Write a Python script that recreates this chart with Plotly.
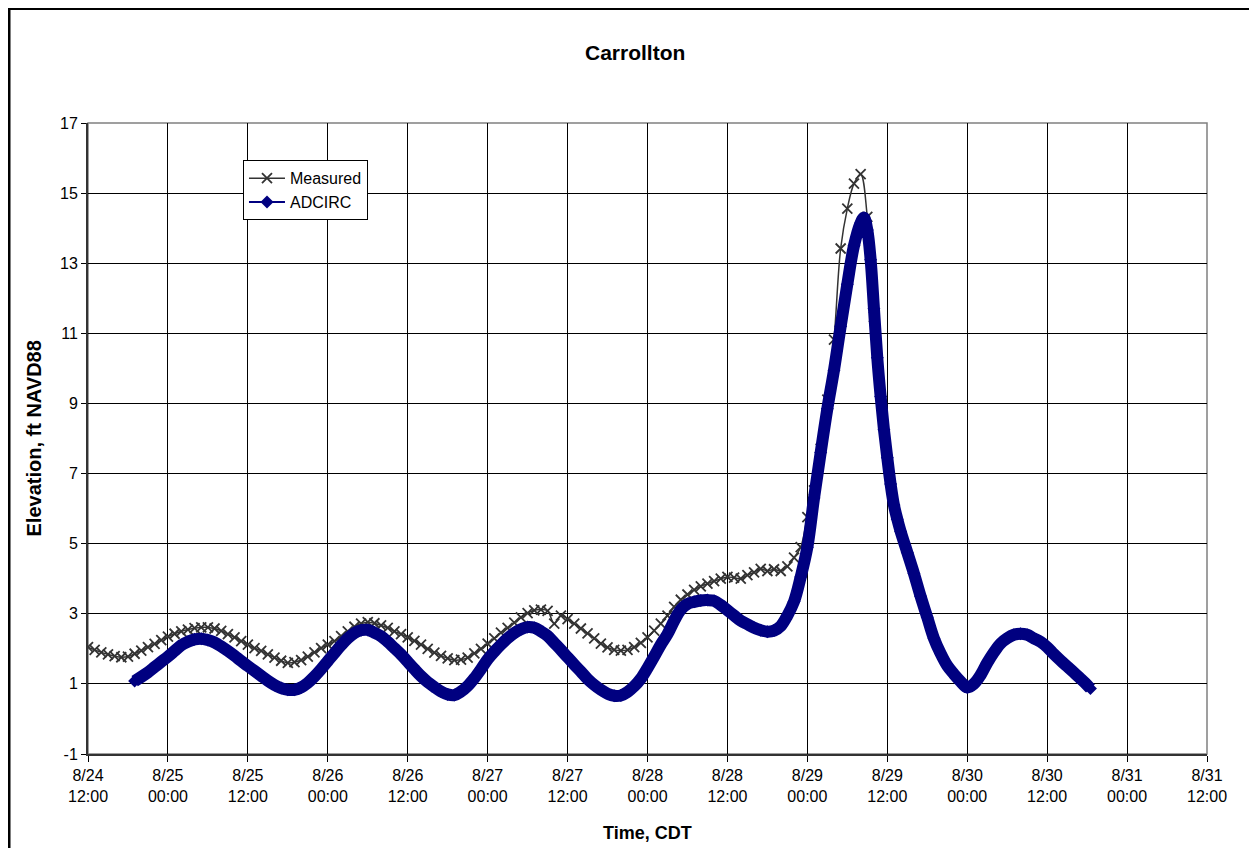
import pandas as pd
import plotly.graph_objects as go

# ---------------- data ----------------
title_text = "Carrollton"
y_title = "Elevation, ft NAVD88"
x_title = "Time, CDT"
start_time = pd.Timestamp("2005-08-24 12:00")

tick_times = ["2005-08-24 12:00", "2005-08-25 00:00", "2005-08-25 12:00", "2005-08-26 00:00",
              "2005-08-26 12:00", "2005-08-27 00:00", "2005-08-27 12:00", "2005-08-28 00:00",
              "2005-08-28 12:00", "2005-08-29 00:00", "2005-08-29 12:00", "2005-08-30 00:00",
              "2005-08-30 12:00", "2005-08-31 00:00", "2005-08-31 12:00"]
tick_labels = ["8/24<br>12:00", "8/25<br>00:00", "8/25<br>12:00", "8/26<br>00:00",
               "8/26<br>12:00", "8/27<br>00:00", "8/27<br>12:00", "8/28<br>00:00",
               "8/28<br>12:00", "8/29<br>00:00", "8/29<br>12:00", "8/30<br>00:00",
               "8/30<br>12:00", "8/31<br>00:00", "8/31<br>12:00"]
y_ticks = [-1, 1, 3, 5, 7, 9, 11, 13, 15, 17]
y_tick_labels = ["-1", "1", "3", "5", "7", "9", "11", "13", "15", "17"]

# Measured: hourly, hours after 8/24 12:00
measured_hours = list(range(0, 119))
measured_ft = [2.05, 1.97, 1.90, 1.84, 1.79, 1.76, 1.78, 1.86, 1.95, 2.05,
               2.14, 2.25, 2.35, 2.43, 2.50, 2.55, 2.59, 2.61, 2.61, 2.58,
               2.51, 2.42, 2.33, 2.22, 2.12, 2.02, 1.94, 1.84, 1.75, 1.66,
               1.60, 1.62, 1.68, 1.78, 1.90, 2.02, 2.12, 2.22, 2.36, 2.50,
               2.63, 2.72, 2.76, 2.73, 2.67, 2.60, 2.50, 2.42, 2.33, 2.23,
               2.12, 2.00, 1.89, 1.80, 1.73, 1.68, 1.69, 1.75, 1.87, 2.00,
               2.15, 2.30, 2.46, 2.60, 2.75, 2.90, 3.02, 3.10, 3.12, 3.08,
               2.72, 2.95, 2.85, 2.72, 2.58, 2.44, 2.30, 2.15, 2.04, 1.97,
               1.95, 1.97, 2.05, 2.17, 2.33, 2.52, 2.72, 2.95, 3.20, 3.40,
               3.55, 3.68, 3.78, 3.86, 3.93, 4.00, 4.05, 4.03, 4.00, 4.10,
               4.18, 4.28, 4.22, 4.27, 4.22, 4.35, 4.60, 4.90, 5.76, 6.52,
               7.71, 9.11, 10.82, 13.42, 14.56, 15.27, 15.54, 14.32, 11.47]

# ADCIRC: hours after 8/24 12:00
adcirc_hours = (list(range(7, 117))
                + [116.5, 117, 117.5, 118, 118.5, 119, 119.5, 120, 120.5, 121, 121.5, 122]
                + list(range(123, 151)) + [150.5])
adcirc_ft = [1.08, 1.20, 1.33, 1.48, 1.63, 1.78, 1.94, 2.10, 2.20, 2.27,
             2.29, 2.25, 2.18, 2.07, 1.94, 1.80, 1.65, 1.51, 1.37, 1.23,
             1.09, 0.97, 0.88, 0.83, 0.83, 0.90, 1.03, 1.21, 1.42, 1.65,
             1.88, 2.10, 2.30, 2.45, 2.53, 2.54, 2.46, 2.36, 2.20, 2.02,
             1.84, 1.63, 1.42, 1.22, 1.05, 0.91, 0.78, 0.70, 0.68, 0.78,
             0.94, 1.16, 1.42, 1.70, 1.92, 2.12, 2.30, 2.45, 2.56, 2.62,
             2.60, 2.50, 2.37, 2.17, 1.97, 1.76, 1.55, 1.35, 1.14, 0.97,
             0.83, 0.72, 0.66, 0.67, 0.77, 0.93, 1.15, 1.45, 1.78, 2.12,
             2.42, 2.80, 3.12, 3.28, 3.34, 3.38, 3.39, 3.37, 3.25, 3.10,
             2.95, 2.80, 2.70, 2.60, 2.53, 2.49, 2.52, 2.65, 2.95, 3.35,
             4.05, 4.90, 6.30, 7.60, 8.85, 9.95, 11.20, 12.40, 13.50, 14.15,
             14.30, 13.95, 13.10, 11.70, 10.30, 9.20, 8.25, 7.45, 6.70, 6.10, 5.70, 5.35,
             4.75, 4.15, 3.50, 2.90, 2.30, 1.87, 1.52, 1.28, 1.07, 0.90,
             1.00, 1.25, 1.60, 1.90, 2.15, 2.30, 2.40, 2.43, 2.40, 2.30,
             2.20, 2.05, 1.85, 1.67, 1.50, 1.33, 1.15, 0.97,
             0.87]

# ---------------- figure ----------------
measured_t = start_time + pd.to_timedelta(measured_hours, unit="h")
adcirc_t = start_time + pd.to_timedelta(adcirc_hours, unit="h")

FONT = "Arial, Liberation Sans, sans-serif"
GRAY = "#333333"
NAVY = "#000080"

fig = go.Figure()
fig.add_trace(go.Scatter(
    x=measured_t, y=measured_ft, name="Measured", mode="lines+markers",
    line=dict(color=GRAY, width=1.5, shape="spline"),
    marker=dict(symbol="x-thin", size=10, color=GRAY, line=dict(color=GRAY, width=1.8)),
))
fig.add_trace(go.Scatter(
    x=adcirc_t, y=adcirc_ft, name="ADCIRC", mode="lines", showlegend=False,
    line=dict(color=NAVY, width=12, shape="spline"),
))
fig.add_trace(go.Scatter(
    x=adcirc_t, y=adcirc_ft, name="ADCIRC", mode="lines+markers",
    line=dict(color=NAVY, width=2, shape="spline"),
    marker=dict(symbol="diamond", size=10, color=NAVY),
))

W, H = 1241, 840
ML, MR, MT, MB = 80, 42, 115, 94

fig.update_layout(
    width=W, height=H,
    margin=dict(l=ML, r=MR, t=MT, b=MB, pad=0),
    paper_bgcolor="white", plot_bgcolor="white",
    font=dict(family=FONT, size=16, color="black"),
    showlegend=True,
    legend=dict(x=0.1385, y=0.941, xanchor="left", yanchor="top",
                bgcolor="white", bordercolor="black", borderwidth=1,
                font=dict(family=FONT, size=16, color="black"),
                tracegroupgap=0, itemwidth=36),
    xaxis=dict(type="date", range=[tick_times[0], tick_times[-1]],
               tickvals=tick_times, ticktext=tick_labels,
               ticks="outside", ticklen=6, tickwidth=1, tickcolor="black",
               showgrid=True, gridcolor="black", gridwidth=1,
               showline=True, linecolor=GRAY, linewidth=2,
               zeroline=False, tickfont=dict(family=FONT, size=16)),
    yaxis=dict(range=[-1, 17], tickvals=y_ticks, ticktext=y_tick_labels,
               ticks="outside", ticklen=5, tickwidth=1, tickcolor="black",
               showgrid=True, gridcolor="black", gridwidth=1,
               showline=True, linecolor=GRAY, linewidth=2,
               zeroline=False, tickfont=dict(family=FONT, size=16)),
    annotations=[
        dict(text="<b>" + title_text + "</b>", xref="paper", yref="paper",
             x=(627 - ML) / 1119, y=(745.6 - 44) / 631, xanchor="center", yanchor="middle",
             showarrow=False, font=dict(family=FONT, size=21)),
        dict(text="<b>" + y_title + "</b>", xref="paper", yref="paper",
             x=(25 - ML) / 1119, y=0.5, xanchor="center", yanchor="middle", textangle=-90,
             showarrow=False, font=dict(family=FONT, size=20)),
        dict(text="<b>" + x_title + "</b>", xref="paper", yref="paper",
             x=0.5, y=(745.6 - 825) / 631, xanchor="center", yanchor="middle",
             showarrow=False, font=dict(family=FONT, size=18)),
    ],
    shapes=[
        # plot area frame (gray top/right)
        dict(type="rect", xref="paper", yref="paper", x0=0, y0=0, x1=1, y1=1,
             line=dict(color="#808080", width=1.5), layer="below"),
        # outer chart border
        dict(type="rect", xref="paper", yref="paper",
             x0=(1.0 - ML) / 1119, y0=-0.3, x1=1.2, y1=(745.6 - 0.0) / 631,
             line=dict(color="black", width=3)),
    ],
)

fig.write_html("out.html")
